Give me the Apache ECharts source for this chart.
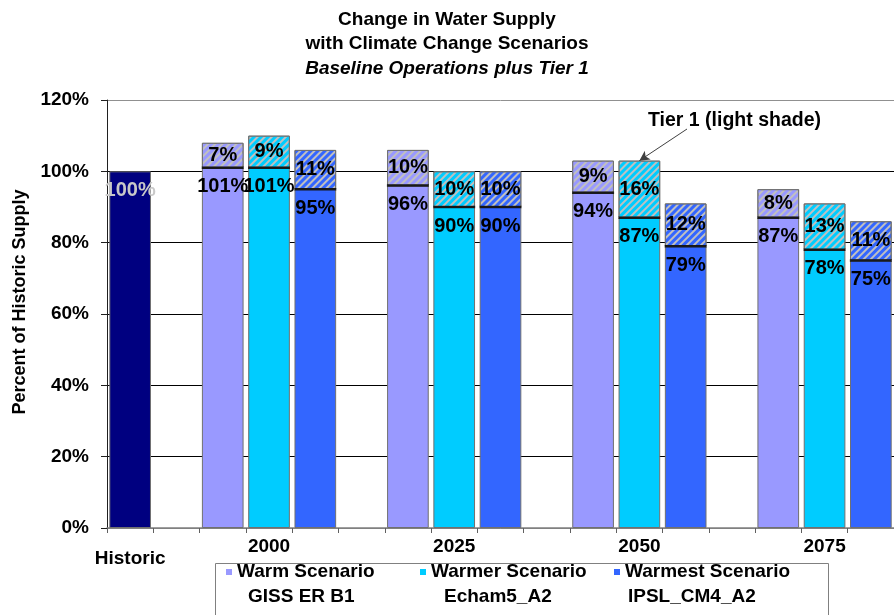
<!DOCTYPE html>
<html>
<head>
<meta charset="utf-8">
<script src="https://cdn.jsdelivr.net/npm/echarts@6/dist/echarts.min.js"></script>
<style>
html,body{margin:0;padding:0;background:#fff;}
#chart{width:894px;height:615px;}
</style>
</head>
<body>
<div id="chart"></div>
<script>
// ---- data ----
const years = ['2000', '2025', '2050', '2075'];
const historicValue = 100;
const warmBase = [101, 96, 94, 87];
const warmTier = [7, 10, 9, 8];
const warmerBase = [101, 90, 87, 78];
const warmerTier = [9, 10, 16, 13];
const warmestBase = [95, 90, 79, 75];
const warmestTier = [11, 10, 12, 11];
const scenarioNames = ['Warm Scenario', 'Warmer Scenario', 'Warmest Scenario'];
const modelNames = ['GISS ER B1', 'Echam5_A2', 'IPSL_CM4_A2'];
const historicLabel = 'Historic';
const annotationText = 'Tier 1 (light shade)';

// ---- categories built from the data ----
const categories = [historicLabel, 'gap0'];
const tickLabels = [historicLabel, ''];
years.forEach((y, i) => {
  categories.push(y + ' warm', y, y + ' warmest');
  tickLabels.push('', y, '');
  if (i < years.length - 1) { categories.push('gap' + (i + 1)); tickLabels.push(''); }
});
function slotIndex(yearIdx, slot) { return 2 + 4 * yearIdx + slot; }
function spread(values, slot) {
  const arr = categories.map(() => '-');
  values.forEach((v, i) => { arr[slotIndex(i, slot)] = v; });
  return arr;
}
const historicData = categories.map((c, i) => i === 0 ? historicValue : '-');

const colors = ['#9999FF', '#00CCFF', '#3366FF'];
const bases = [warmBase, warmerBase, warmestBase];
const tiers = [warmTier, warmerTier, warmestTier];
const FONT = 'Liberation Sans, Arial, sans-serif';
const border = { borderColor: '#707070', borderWidth: 1 };
const LBL = 20;

const series = [{
  name: historicLabel, type: 'bar', stack: 'total', data: historicData,
  barCategoryGap: '10%',
  itemStyle: Object.assign({ color: '#000080' }, border),
  label: { show: true, position: 'insideTop', distance: 9, formatter: '{c}%', color: '#c8c8c8',
           fontFamily: FONT, fontWeight: 'bold', fontSize: LBL }
}];
scenarioNames.forEach((name, s) => {
  series.push({
    name: name, type: 'bar', stack: 'total', data: spread(bases[s], s),
    itemStyle: Object.assign({ color: colors[s] }, border),
    label: { show: true, position: 'insideTop', distance: 9, formatter: '{c}%', color: '#000',
             fontFamily: FONT, fontWeight: 'bold', fontSize: LBL }
  });
  series.push({
    name: name + ' Tier 1', type: 'bar', stack: 'total', data: spread(tiers[s], s),
    itemStyle: Object.assign({ color: '#C0C0C0',
      decal: { symbol: 'rect', symbolSize: 1, dashArrayX: [1, 0], dashArrayY: [2.2, 2],
               rotation: -Math.PI / 4, color: colors[s] } }, border),
    label: { show: true, position: 'inside', formatter: '{c}%', color: '#000',
             fontFamily: FONT, fontWeight: 'bold', fontSize: LBL }
  });
});
// divider lines between base and tier (at base value)
const dividerData = [];
bases.forEach((b, s) => b.forEach((v, i) => dividerData.push([categories[slotIndex(i, s)], v])));
const arrowTarget = [categories[slotIndex(2, 1)], warmerBase[2] + warmerTier[2]];
series.push({
  name: 'divider', type: 'scatter', data: dividerData, symbol: 'rect', symbolSize: [42, 2.5],
  itemStyle: { color: '#000' }, z: 5, silent: true,
  markLine: {
    silent: true, symbol: ['none', 'arrow'], symbolSize: [8, 10],
    lineStyle: { color: '#404040', width: 1, type: 'solid' },
    label: { show: false },
    data: [[{ x: 687, y: 129 }, { coord: arrowTarget }]]
  }
});

const chart = echarts.init(document.getElementById('chart'));
const legendText = { fontFamily: FONT, fontWeight: 'bold', fontSize: 19, lineHeight: 25, color: '#000' };
chart.setOption({
  animation: false,
  backgroundColor: '#fff',
  title: {
    left: 'center', top: 7.5, padding: 0,
    text: '{a|Change in Water Supply}\n{a|with Climate Change Scenarios}\n{b|Baseline Operations plus Tier 1}',
    textStyle: {
      rich: {
        a: { fontFamily: FONT, fontWeight: 'bold', fontSize: 19, lineHeight: 24.5, color: '#000' },
        b: { fontFamily: FONT, fontWeight: 'bold', fontStyle: 'italic', fontSize: 19, lineHeight: 24.5, color: '#000' }
      }
    }
  },
  grid: { left: 107, right: -10, top: 100, bottom: 87, containLabel: false },
  legend: {
    data: scenarioNames, left: 226, top: 537.5, padding: 0, itemGap: 1,
    itemWidth: 6, itemHeight: 6, icon: 'rect', selectedMode: false,
    itemStyle: { borderWidth: 0 },
    formatter: function (name) {
      const i = scenarioNames.indexOf(name);
      return '{blank| }\n{a|' + name + '}\n{b' + i + '|' + modelNames[i] + '}';
    },
    textStyle: {
      rich: {
        blank: { fontSize: 19, lineHeight: 25 },
        a: Object.assign({ width: 182 }, legendText),
        b0: Object.assign({ padding: [0, 0, 0, 11] }, legendText),
        b1: Object.assign({ padding: [0, 0, 0, 13] }, legendText),
        b2: Object.assign({ padding: [0, 0, 0, 3] }, legendText)
      }
    }
  },
  graphic: [
    { type: 'rect', z: -1, shape: { x: 215.5, y: 563.5, width: 613, height: 70 },
      style: { fill: '#fff', stroke: '#808080', lineWidth: 1 } },
    { type: 'text', left: 648, top: 111, z: 10,
      style: { text: annotationText, font: 'bold 19.5px ' + FONT, fill: '#000' } }
  ],
  xAxis: {
    type: 'category', data: categories,
    axisLine: { lineStyle: { color: '#808080', width: 1.5 } },
    axisTick: { show: true, length: 5, lineStyle: { color: '#606060' } },
    axisLabel: {
      interval: 0, margin: 9, color: '#000', fontFamily: FONT, fontWeight: 'bold', fontSize: 19,
      formatter: function (v, i) {
        const t = tickLabels[i];
        if (!t) return '';
        return i === 0 ? '{h|' + t + '}' : t;
      },
      rich: { h: { fontFamily: FONT, fontWeight: 'bold', fontSize: 19, color: '#000', padding: [12, 0, 0, 0] } }
    }
  },
  yAxis: {
    type: 'value', min: 0, max: 120, interval: 20,
    name: 'Percent of Historic Supply', nameLocation: 'middle', nameGap: 78,
    nameTextStyle: { fontFamily: FONT, fontWeight: 'bold', fontSize: 18, color: '#000', padding: [0, 0, 0, 24] },
    axisLine: { show: true, lineStyle: { color: '#202020', width: 1 } },
    axisTick: { show: true, length: 6, lineStyle: { color: '#202020' } },
    axisLabel: { margin: 18, formatter: '{value}%', color: '#000', fontFamily: FONT, fontWeight: 'bold', fontSize: 19 },
    splitLine: { show: true, lineStyle: { color: ['#808080', '#000', '#000', '#000', '#000', '#000', '#909090'], width: 1 } }
  },
  series: series
});
</script>
</body>
</html>
